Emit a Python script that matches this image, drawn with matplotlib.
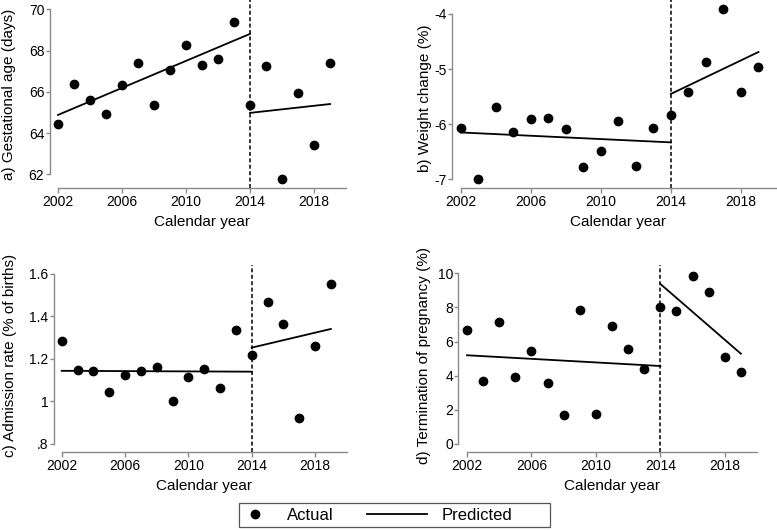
import numpy as np
import matplotlib
matplotlib.use("Agg")
import matplotlib.pyplot as plt
from matplotlib.lines import Line2D
from matplotlib.path import Path
from matplotlib.legend_handler import HandlerLine2D

plt.rcParams['font.family'] = ['Liberation Sans', 'DejaVu Sans']

YEARS = list(range(2002, 2020))
BREAK_YEAR = 2014
XTICKS = [2002, 2006, 2010, 2014, 2018]

# actual values per year
GEST_AGE = [64.46, 66.40, 65.60, 64.94, 66.34, 67.39, 65.36, 67.07, 68.26,
            67.32, 67.58, 69.39, 65.36, 67.23, 61.79, 65.93, 63.44, 67.39]
WEIGHT_CHANGE = [-6.06, -7.00, -5.68, -6.15, -5.91, -5.88, -6.09, -6.78, -6.49,
                 -5.94, -6.75, -6.06, -5.83, -5.41, -4.88, -3.91, -5.42, -4.97]
ADMISSION = [1.285, 1.145, 1.142, 1.042, 1.122, 1.142, 1.159, 1.002, 1.114,
             1.153, 1.060, 1.333, 1.217, 1.465, 1.362, 0.919, 1.258, 1.553]
TERMINATION = [6.66, 3.71, 7.15, 3.93, 5.47, 3.59, 1.70, 7.85, 1.76,
               6.89, 5.55, 4.41, 8.05, 7.79, 9.86, 8.89, 5.08, 4.24]

# predicted (fitted) segments: (start year, end year), (start value, end value)
PRE_YEARS = [2002, 2014]
POST_YEARS = [2014, 2019]
GEST_PRE = [64.88, 68.81]
GEST_POST = [64.98, 65.41]
WEIGHT_PRE = [-6.15, -6.33]
WEIGHT_POST = [-5.45, -4.69]
ADMISSION_PRE = [1.143, 1.139]
ADMISSION_POST = [1.252, 1.340]
TERMINATION_PRE = [5.20, 4.57]
TERMINATION_POST = [9.38, 5.29]

YLABELS = ["a) Gestational age (days)", "b) Weight change (%)",
           "c) Admission rate (% of births)", "d) Termination of pregnancy (%)"]
YTICKS = [[62, 64, 66, 68, 70], [-7, -6, -5, -4],
          [0.8, 1.0, 1.2, 1.4, 1.6], [0, 2, 4, 6, 8, 10]]
YTICKLABELS = [["62", "64", "66", "68", "70"], ["-7", "-6", "-5", "-4"],
               [".8", "1", "1.2", "1.4", "1.6"], ["0", "2", "4", "6", "8", "10"]]

W, H = 777, 530
SPINE_GRAY = "#8a8a8a"

# pixel boxes (left, top, right, bottom) and limits for each panel
PANELS = [
    dict(box=(49.5, 0, 348, 188), xlim=(2001.47, 2020.12), ylim=(61.34, 70.45),
         ylab=(9, 94)),
    dict(box=(452, 0, 777, 188), xlim=(2001.49, 2020.06), ylim=(-7.158, -3.746),
         ylab=(425, 98)),
    dict(box=(53.5, 265, 347, 452), xlim=(2001.48, 2020.02), ylim=(0.761, 1.641),
         ylab=(10, 355)),
    dict(box=(458.3, 265, 757.5, 452), xlim=(2001.46, 2020.03), ylim=(-0.47, 10.49),
         ylab=(424, 356)),
]

series = [
    (GEST_AGE, GEST_PRE, GEST_POST),
    (WEIGHT_CHANGE, WEIGHT_PRE, WEIGHT_POST),
    (ADMISSION, ADMISSION_PRE, ADMISSION_POST),
    (TERMINATION, TERMINATION_PRE, TERMINATION_POST),
]

fig = plt.figure(figsize=(W / 100, H / 100), dpi=100)

for i, (actual, pre, post) in enumerate(series):
    p = PANELS[i]
    left, top, right, bottom = p["box"]
    ax = fig.add_axes([left / W, 1 - bottom / H, (right - left) / W, (bottom - top) / H])
    ax.set_xlim(*p["xlim"])
    ax.set_ylim(*p["ylim"])

    ax.axvline(BREAK_YEAR, color="black", lw=1.1, ls=(0, (2.6, 1.6)), zorder=1)
    ax.plot(PRE_YEARS, pre, color="black", lw=1.3, zorder=2)
    ax.plot(POST_YEARS, post, color="black", lw=1.3, zorder=2)
    ax.plot(YEARS, actual, ls="none", marker="o", ms=6, color="black", zorder=3,
            clip_on=False)

    for side in ["top", "right"]:
        ax.spines[side].set_visible(False)
    for side in ["left", "bottom"]:
        ax.spines[side].set_color(SPINE_GRAY)
        ax.spines[side].set_linewidth(1.0)
    ax.spines["left"].set_bounds(YTICKS[i][0], YTICKS[i][-1])
    ax.spines["bottom"].set_bounds(2002, 2020)

    ax.set_xticks(XTICKS)
    ax.set_yticks(YTICKS[i])
    ax.set_yticklabels(YTICKLABELS[i])
    ax.tick_params(axis="x", length=3.6, width=1.0, color=SPINE_GRAY, pad=1.5,
                   labelsize=10)
    ax.tick_params(axis="y", length=2.7, width=1.0, color=SPINE_GRAY, pad=1.0,
                   labelsize=10)

    ax.annotate("Calendar year", xy=(2011, 0), xycoords=("data", "axes fraction"),
                xytext=(0, -24.5), textcoords="offset points",
                ha="center", va="center", fontsize=11)
    lx, ly = p["ylab"]
    fig.text(lx / W, 1 - ly / H, YLABELS[i], rotation=90, ha="center", va="center",
             fontsize=11)


class MarkerRight(HandlerLine2D):
    def get_xdata(self, legend, xdescent, ydescent, width, height, fontsize):
        xdata, _ = super().get_xdata(legend, xdescent, ydescent, width, height, fontsize)
        return xdata, np.array([-xdescent + width - 0.25 * fontsize])


class LongLine(HandlerLine2D):
    def get_xdata(self, legend, xdescent, ydescent, width, height, fontsize):
        _, xm = super().get_xdata(legend, xdescent, ydescent, width, height, fontsize)
        return np.array([-xdescent + width - 3.6 * fontsize, -xdescent + width]), xm


def legend_box(x0, y0, width, height, mutation_size):
    x_left = x0 + 0.3 * mutation_size
    x_right = x0 + width + 2.0 * mutation_size
    return Path([(x_left, y0), (x_right, y0), (x_right, y0 + height),
                 (x_left, y0 + height), (x_left, y0)], closed=True)


h_actual = Line2D([], [], ls="none", marker="o", ms=6, color="black")
h_pred = Line2D([], [], color="black", lw=1.3)
leg = fig.legend([h_actual, h_pred], ["Actual", "Predicted"], ncol=2,
                 loc="center left", bbox_to_anchor=(234 / W, 1 - 515 / H),
                 borderaxespad=0, fontsize=12, frameon=True, fancybox=False,
                 handlelength=2.0, handletextpad=0.9, columnspacing=3.6,
                 borderpad=0.27,
                 handler_map={h_actual: MarkerRight(numpoints=1),
                              h_pred: LongLine()})
frame = leg.get_frame()
frame.set_boxstyle(legend_box)
frame.set_edgecolor("#555555")
frame.set_linewidth(0.9)
frame.set_alpha(1)

fig.savefig("out.png", dpi=100)
